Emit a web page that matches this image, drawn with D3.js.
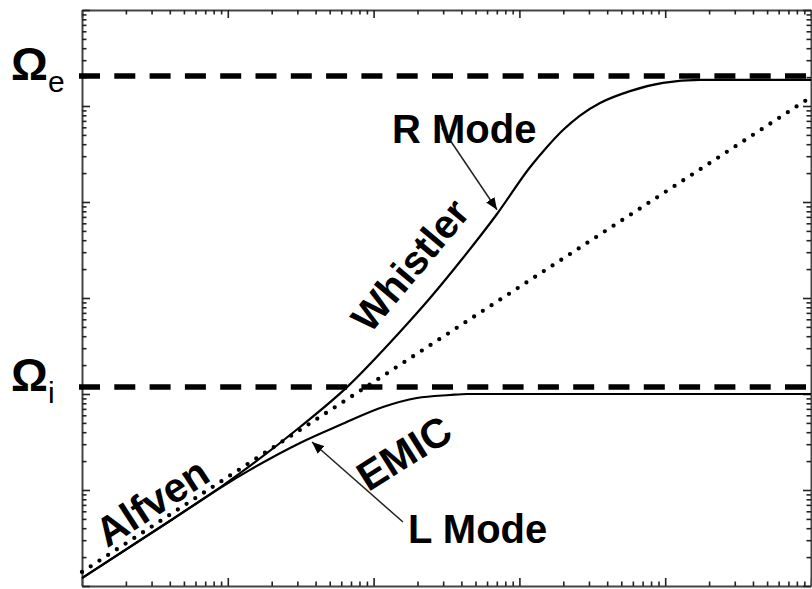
<!DOCTYPE html>
<html>
<head>
<meta charset="utf-8">
<script src="https://cdn.jsdelivr.net/npm/d3@7"></script>
<style>
  html, body { margin: 0; padding: 0; background: #fff; }
  svg { display: block; }
  text { font-family: "Liberation Sans", Arial, sans-serif; fill: #000; }
</style>
</head>
<body>
<svg id="chart" width="812" height="589"></svg>
<script>
// Parallel-propagating cold plasma modes, log k vs log omega (arbitrary units)

// R mode: Alfven branch -> whistler -> electron cyclotron resonance
const rModeK = [1, 4.0, 8.84, 14.2, 31.3, 65.7, 145, 244, 410, 702, 1182, 1546, 1991, 2603, 3572, 5736, 9660, 17300, 38200, 100000];
const rModeW = [0.00121, 0.00475, 0.0106, 0.0178, 0.0453, 0.118, 0.412, 1.0, 2.61, 7.5, 23.0, 37.4, 56.2, 79.6, 107.5, 143, 174, 187, 187, 187];

// L mode: Alfven branch -> EMIC -> ion cyclotron resonance
const lModeK = [1, 4.0, 8.84, 14.2, 31.3, 58.8, 116, 198, 334, 437, 100000];
const lModeW = [0.00121, 0.00475, 0.0105, 0.0162, 0.0309, 0.0475, 0.0732, 0.0908, 0.0976, 0.1, 0.1];

// Alfven dispersion omega = k vA (dotted)
const alfvenK = [1, 100000];
const alfvenW = [0.0014, 124];

// gyrofrequencies (dashed)
const omegaE = 205;
const omegaI = 0.118;

const xDomain = [1, 1e5];
const yDomain = [1e-3, 1e3];

const svg = d3.select("#chart");
const plotL = 82, plotR = 811, plotT = 10, plotB = 586;

const x = d3.scaleLog().domain(xDomain).range([plotL, plotR]);
const y = d3.scaleLog().domain(yDomain).range([plotB, plotT]);

const isMajor = v => Math.abs(Math.log10(v) - Math.round(Math.log10(v))) < 1e-6;

// frame with inward log ticks on all four sides
function frameAxis(axis, transform, horizontal, sign) {
  const g = svg.append("g").attr("transform", transform).call(axis);
  g.select(".domain").attr("stroke", "#444").attr("stroke-width", 2);
  g.selectAll(".tick line")
    .attr("stroke", "#222")
    .attr("stroke-width", 1.6)
    .each(function (d) {
      const len = isMajor(d) ? 8 : 4.5;
      const el = d3.select(this);
      if (horizontal) el.attr("y2", sign * len);
      else el.attr("x2", sign * len);
    });
  g.selectAll(".tick text").remove();
  return g;
}

const xTicks = x.ticks();
const yTicks = y.ticks();

frameAxis(d3.axisBottom(x).tickValues(xTicks).tickSizeOuter(0), `translate(0,${plotB})`, true, -1);
frameAxis(d3.axisTop(x).tickValues(xTicks).tickSizeOuter(0), `translate(0,${plotT})`, true, 1);
frameAxis(d3.axisLeft(y).tickValues(yTicks).tickSizeOuter(0), `translate(${plotL},0)`, false, 1);
frameAxis(d3.axisRight(y).tickValues(yTicks).tickSizeOuter(0), `translate(${plotR},0)`, false, -1);

// gyrofrequency levels
[omegaE, omegaI].forEach(w => {
  svg.append("line")
    .attr("x1", x(xDomain[0]) - 3).attr("x2", x(xDomain[1]))
    .attr("y1", y(w)).attr("y2", y(w))
    .attr("stroke", "#000").attr("stroke-width", 5.5)
    .attr("stroke-dasharray", "21 14.3");
});

const line = d3.line().x(d => x(d[0])).y(d => y(d[1])).curve(d3.curveMonotoneX);

// Alfven line
svg.append("path")
  .attr("d", line(d3.zip(alfvenK, alfvenW)))
  .attr("fill", "none").attr("stroke", "#000")
  .attr("stroke-width", 4.3).attr("stroke-linecap", "round")
  .attr("stroke-dasharray", "0 10.4");

// dispersion branches
[[lModeK, lModeW], [rModeK, rModeW]].forEach(([k, w]) => {
  svg.append("path")
    .attr("d", line(d3.zip(k, w)))
    .attr("fill", "none").attr("stroke", "#000")
    .attr("stroke-width", 2.2).attr("stroke-linejoin", "round");
});

// arrowhead
svg.append("defs").append("marker")
  .attr("id", "head").attr("viewBox", "0 0 12 10")
  .attr("refX", 12).attr("refY", 5)
  .attr("markerWidth", 12).attr("markerHeight", 10)
  .attr("markerUnits", "userSpaceOnUse").attr("orient", "auto")
  .append("path").attr("d", "M0,0 L12,5 L0,10 Z").attr("fill", "#000");

function arrow(k0, w0, k1, w1) {
  svg.append("line")
    .attr("x1", x(k0)).attr("y1", y(w0))
    .attr("x2", x(k1)).attr("y2", y(w1))
    .attr("stroke", "#222").attr("stroke-width", 1.5)
    .attr("marker-end", "url(#head)");
}
arrow(294, 59, 702, 8.3);           // R Mode -> whistler branch
arrow(159, 0.00464, 37.8, 0.0316);  // L Mode -> EMIC branch

// labels
function label(txt, px, py, size, rot) {
  svg.append("text")
    .attr("transform", `translate(${px},${py}) rotate(${rot})`)
    .attr("text-anchor", "middle").attr("dy", "0.35em")
    .attr("font-size", size).attr("font-weight", "bold")
    .text(txt);
}
svg.append("text").attr("x", 392).attr("y", 143).attr("font-size", 40).attr("font-weight", "bold").text("R Mode");
svg.append("text").attr("x", 408).attr("y", 543).attr("font-size", 40).attr("font-weight", "bold").text("L Mode");
label("Whistler", 410, 265, 40, -50);
label("EMIC", 404, 453, 41, -32);
label("Alfven", 152, 502, 41, -33);

// gyrofrequency symbols on the left
function omegaLabel(sub, baseY, subY) {
  const t = svg.append("text").attr("x", 11).attr("y", baseY);
  t.append("tspan").attr("font-size", 46).attr("font-weight", "bold").text("Ω");
  t.append("tspan").attr("font-size", 30).attr("dy", subY).text(sub);
}
omegaLabel("e", 80, 12);
omegaLabel("i", 391, 12);
</script>
</body>
</html>
